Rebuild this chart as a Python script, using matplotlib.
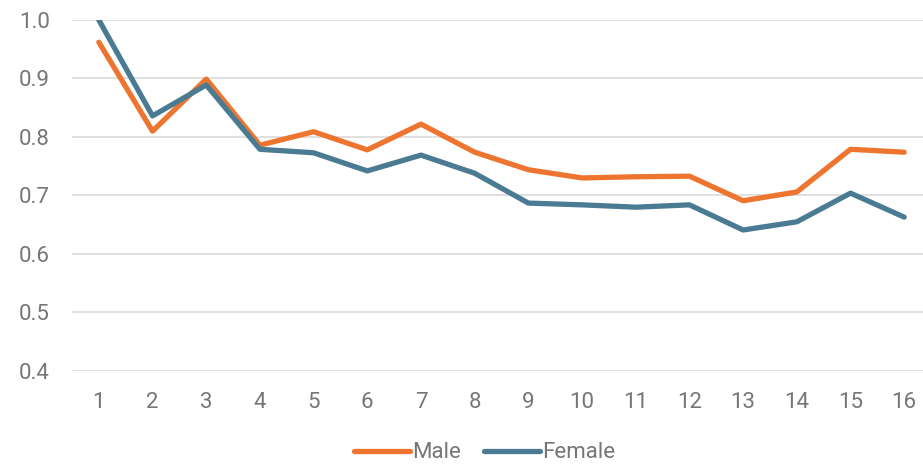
import numpy as np
import matplotlib.pyplot as plt

plt.rcParams['font.family'] = ['Roboto', 'DejaVu Sans']

x = np.arange(1, 17)
male = [0.962, 0.810, 0.899, 0.786, 0.809, 0.778, 0.822, 0.774,
        0.744, 0.730, 0.732, 0.733, 0.691, 0.706, 0.779, 0.774]
female = [1.0, 0.836, 0.889, 0.779, 0.773, 0.742, 0.769, 0.738,
          0.687, 0.684, 0.680, 0.684, 0.641, 0.655, 0.704, 0.663]

orange = '#EE7530'
blue = '#4A7B92'
grey = '#767676'

fig = plt.figure(figsize=(9.23, 4.67), dpi=100)
ax = fig.add_axes([0.078, 0.2056, 0.922, 0.7516])

ax.plot(x, male, color=orange, lw=3.8, solid_capstyle='round', solid_joinstyle='round', label='Male')
ax.plot(x, female, color=blue, lw=3.8, solid_capstyle='round', solid_joinstyle='round', label='Female')

ax.set_ylim(0.4, 1.0)
ax.set_xlim(0.5, 16.35)
ax.set_yticks(np.arange(0.4, 1.01, 0.1))
ax.set_yticklabels([f'{v:.1f}' for v in np.arange(0.4, 1.01, 0.1)])
ax.set_xticks(x)
ax.yaxis.grid(True, color='#DDDDDD', lw=1.3)
ax.set_axisbelow(True)
for s in ax.spines.values():
    s.set_visible(False)
ax.tick_params(length=0, labelsize=16, colors=grey)
ax.tick_params(axis='x', pad=15)
ax.tick_params(axis='y', pad=16)

leg = fig.legend(loc='lower center', bbox_to_anchor=(0.525, -0.035), ncol=2, frameon=False,
                 fontsize=16, handlelength=2.5, handletextpad=0.1, columnspacing=1.05)
for t in leg.get_texts():
    t.set_color(grey)
for h in leg.get_lines():
    h.set_solid_capstyle('round')

fig.savefig('out.png', dpi=100)
